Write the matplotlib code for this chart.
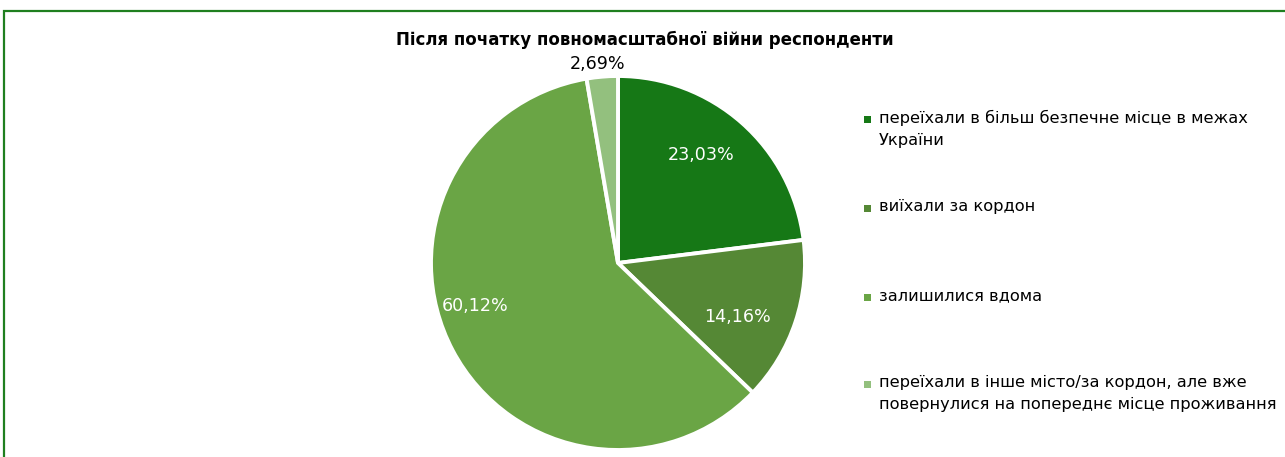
import matplotlib.pyplot as plt
import matplotlib.patches as mpatches
import numpy as np

# дані
labels = ['переїхали в більш безпечне місце в межах\nУкраїни',
          'виїхали за кордон',
          'залишилися вдома',
          'переїхали в інше місто/за кордон, але вже\nповернулися на попереднє місце проживання']
values = [23.03, 14.16, 60.12, 2.69]
value_text = ['23,03%', '14,16%', '60,12%', '2,69%']
colors = ['#167816', '#558835', '#6AA545', '#93C07E']

plt.rcParams['font.family'] = ['DejaVu Sans']

W, H = 1285, 457
fig = plt.figure(figsize=(W / 100, H / 100), dpi=100)

# рамка
fig.add_artist(mpatches.Rectangle((3.5 / W, -0.1), 1.2, (H - 10.5) / H + 0.1,
                                  transform=fig.transFigure, fill=False,
                                  edgecolor='#1F7F1F', linewidth=1.6))

fig.text(645 / W, 1 - 40 / H, 'Після початку повномасштабної війни респонденти',
         ha='center', va='center', fontsize=12, fontweight='bold')

cx, cy, r = 618, 263, 187
ax = fig.add_axes([(cx - r) / W, (H - cy - r) / H, 2 * r / W, 2 * r / H])
wedges, _ = ax.pie(values, colors=colors, startangle=90, counterclock=False,
                   radius=1, wedgeprops=dict(edgecolor='white', linewidth=2.8))
ax.set_xlim(-1, 1)
ax.set_ylim(-1, 1)
ax.axis('off')

# підписи
dist = [0.73, 0.70, 0.80, 1.07]
shift = [4, -6, -11, 1]
txt_colors = ['white', 'white', 'white', 'black']
for w, t, d, s, c in zip(wedges, value_text, dist, shift, txt_colors):
    ang = np.deg2rad((w.theta1 + w.theta2) / 2 + s)
    ax.text(d * np.cos(ang), d * np.sin(ang), t, ha='center', va='center',
            fontsize=12.6, color=c, clip_on=False)

# легенда
ys = [119, 208, 297, 384]
for lab, col, y in zip(labels, colors, ys):
    fig.add_artist(mpatches.Rectangle((864 / W, 1 - (y + 4) / H), 7 / W, 7 / H,
                                      transform=fig.transFigure, facecolor=col,
                                      edgecolor='none'))
    fig.text(879 / W, 1 - (y - 9) / H, lab, ha='left', va='top',
             fontsize=11.7, linespacing=1.6)

fig.savefig('out.png', dpi=100)
